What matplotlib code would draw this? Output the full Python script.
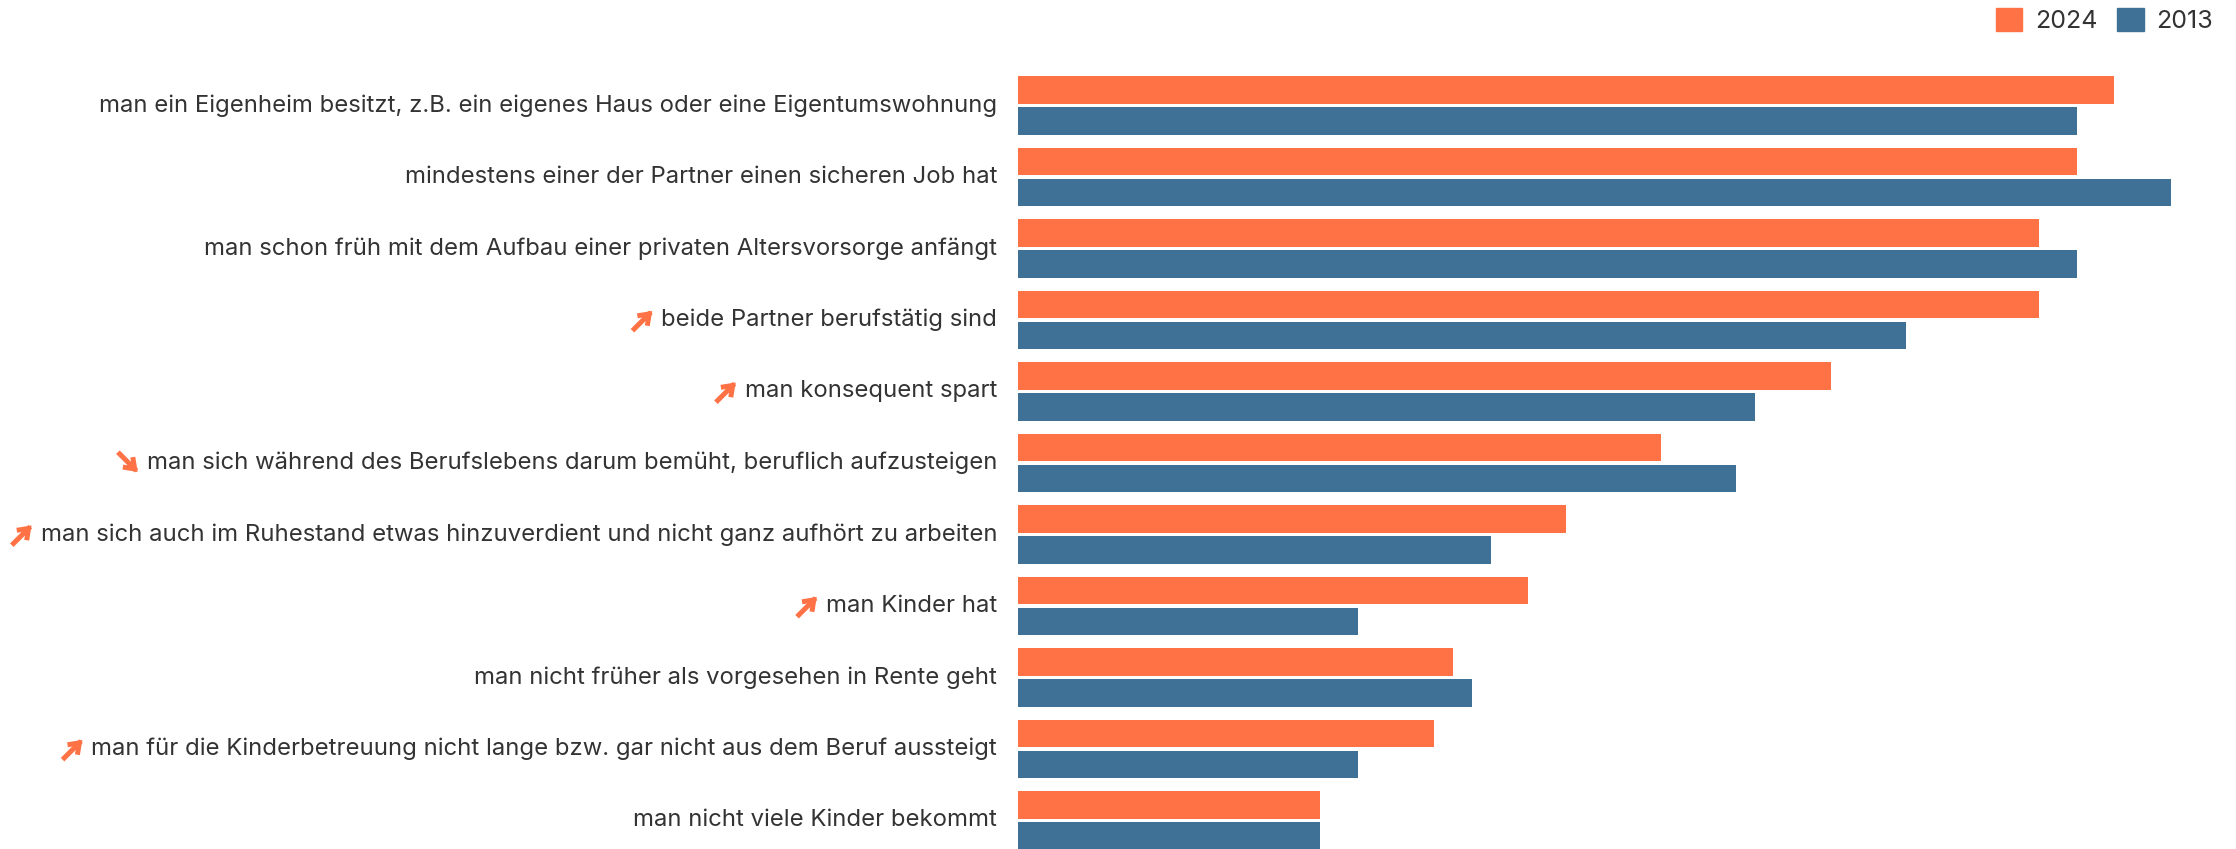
import matplotlib.pyplot as plt
from matplotlib.patches import Patch
from matplotlib.text import OffsetFrom

plt.rcParams['font.family'] = ['Inter', 'DejaVu Sans']

labels = [
    'man ein Eigenheim besitzt, z.B. ein eigenes Haus oder eine Eigentumswohnung',
    'mindestens einer der Partner einen sicheren Job hat',
    'man schon früh mit dem Aufbau einer privaten Altersvorsorge anfängt',
    'beide Partner berufstätig sind',
    'man konsequent spart',
    'man sich während des Berufslebens darum bemüht, beruflich aufzusteigen',
    'man sich auch im Ruhestand etwas hinzuverdient und nicht ganz aufhört zu arbeiten',
    'man Kinder hat',
    'man nicht früher als vorgesehen in Rente geht',
    'man für die Kinderbetreuung nicht lange bzw. gar nicht aus dem Beruf aussteigt',
    'man nicht viele Kinder bekommt',
]
# +1 = rising, -1 = falling, 0 = no marker
trend = [0, 0, 0, 1, 1, -1, 1, 1, 0, 1, 0]
values_2024 = [58, 56, 54, 54, 43, 34, 29, 27, 23, 22, 16]
values_2013 = [56, 61, 56, 47, 39, 38, 25, 18, 24, 18, 16]

orange = '#FF7246'
blue = '#3F7196'
text_color = '#333333'

fig = plt.figure(figsize=(22.36, 8.49), dpi=100)
ax = fig.add_axes([0.4553, 0.0, 0.541, 0.9347])

pos = list(range(len(labels)))
h = 0.387
off = 0.2165
ax.barh([p - off for p in pos], values_2024, height=h, color=orange)
ax.barh([p + off for p in pos], values_2013, height=h, color=blue)

ax.set_xlim(0, 64)
ax.set_ylim(10.40, -0.70)
ax.axis('off')

# labels on the left, with trend arrows in front of some of them
for p, lab, tr in zip(pos, labels, trend):
    t = ax.annotate(lab, xy=(0, p), xytext=(-21, 0), textcoords='offset pixels',
                    ha='right', va='center', fontsize=17.2, color=text_color)
    if tr:
        ref = OffsetFrom(t, (0, 0.5), unit='pixels')
        ax.annotate('', xy=(-9, 9 * tr), xycoords=ref,
                    xytext=(-27, -9 * tr), textcoords=ref,
                    arrowprops=dict(arrowstyle='->,head_length=0.55,head_width=0.4',
                                    lw=3.6, color=orange, capstyle='projecting',
                                    joinstyle='miter',
                                    shrinkA=0, shrinkB=0))

handles = [Patch(color=orange, label='2024'), Patch(color=blue, label='2013')]
fig.legend(handles=handles, loc='upper right', bbox_to_anchor=(0.993, 1.0),
           ncol=2, frameon=False, fontsize=18, handlelength=1.05,
           handleheight=1.05, handletextpad=0.5, columnspacing=0.8,
           borderaxespad=0, borderpad=0.3, labelcolor=text_color)

fig.savefig('out.png', dpi=100)
